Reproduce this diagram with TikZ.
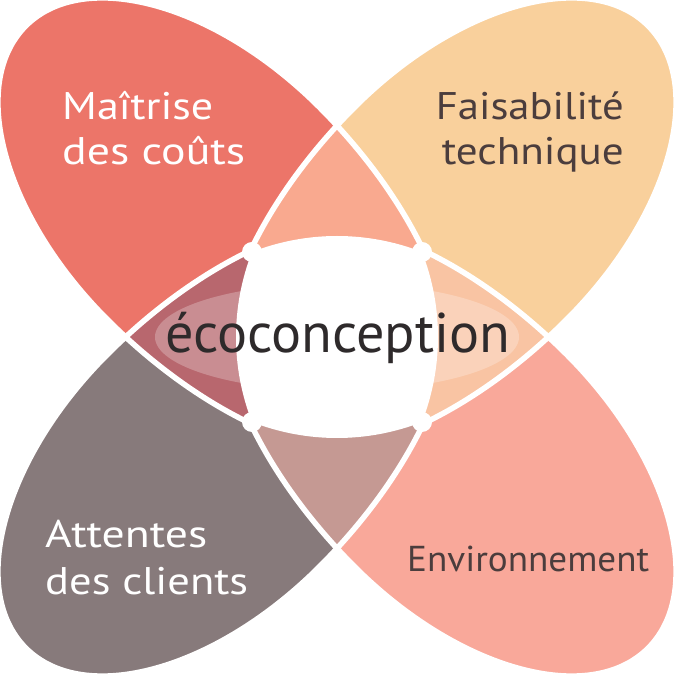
\documentclass[tikz,border=0pt]{standalone}
\usepackage{fontspec}
\setmainfont{PT Sans}
\usepackage{graphicx}
\definecolor{cRed}{HTML}{EC7569}
\definecolor{cYel}{HTML}{F9D09C}
\definecolor{cPink}{HTML}{F9A89A}
\definecolor{cGray}{HTML}{877A7B}
\definecolor{cTop}{HTML}{F9A98F}
\definecolor{cLeft}{HTML}{B8676E}
\definecolor{cRight}{HTML}{F9C4A3}
\definecolor{cBot}{HTML}{C59993}
\definecolor{cDark}{HTML}{4B3D3D}
\definecolor{cText}{HTML}{2E2A2B}
\newsavebox\fitbox
\newcommand\fitw[2]{\sbox\fitbox{#2}\pgfmathsetmacro\fitr{#1/\wd\fitbox}\scalebox{\fitr}[1]{\usebox\fitbox}}
\newcommand\egg{(175,150) arc[start angle=90,end angle=-90,x radius=265pt,y radius=150pt] arc[start angle=270,end angle=90,x radius=302pt,y radius=150pt] -- cycle}
\tikzset{
  petalat/.style={shift={(337,337)},rotate=#1},
  label/.style={inner sep=0pt,font=\fontsize{38.5}{46}\selectfont},
  edgeline/.style={white,line width=5.5pt},
}
\begin{document}
\begin{tikzpicture}[x=1pt,y=1pt]
\useasboundingbox (0,0) rectangle (674,674);
\clip (0,0) rectangle (674,674);
% petals
\fill[cRed,petalat=135] \egg;
\fill[cYel,petalat=45] \egg;
\fill[cPink,petalat=-45] \egg;
\fill[cGray,petalat=225] \egg;
% top lens
\begin{scope}
\clip[petalat=135] \egg;
\clip[petalat=45] \egg;
\clip (337,337) -- (-400,1074) -- (1074,1074) -- cycle;
\fill[cTop] (0,0) rectangle (674,674);
\end{scope}
% left lens
\begin{scope}
\clip[petalat=135] \egg;
\clip[petalat=225] \egg;
\clip (337,337) -- (-400,1074) -- (-400,-400) -- cycle;
\fill[cLeft] (0,0) rectangle (674,674);
\fill[white,opacity=.25] (337,337) ellipse[x radius=182pt,y radius=54pt];
\end{scope}
% right lens
\begin{scope}
\clip[petalat=45] \egg;
\clip[petalat=-45] \egg;
\clip (337,337) -- (1074,1074) -- (1074,-400) -- cycle;
\fill[cRight] (0,0) rectangle (674,674);
\fill[white,opacity=.25] (337,337) ellipse[x radius=182pt,y radius=54pt];
\end{scope}
% bottom lens
\begin{scope}
\clip[petalat=225] \egg;
\clip[petalat=-45] \egg;
\clip (337,337) -- (-400,-400) -- (1074,-400) -- cycle;
\fill[cBot] (0,0) rectangle (674,674);
\end{scope}
% white edges
\foreach \a in {135,45,-45,225}{
  \begin{scope}[petalat=\a]
  \clip (0,-400) rectangle (700,400);
  \draw[edgeline] \egg;
  \end{scope}
}
% central white region
\fill[white] (252,422) arc[start angle=111.32,end angle=68.68,radius=233.8pt]
  arc[start angle=21.32,end angle=-21.32,radius=233.8pt]
  arc[start angle=-68.68,end angle=-111.32,radius=233.8pt]
  arc[start angle=-158.68,end angle=-201.32,radius=233.8pt] -- cycle;
\foreach \p in {{(252,422)},{(422,422)},{(422,252)},{(252,252)}}{
  \fill[white] \p circle[radius=10pt];
}
% texts
\node[label,text=white,anchor=base west] (m1) at (62,554) {\fitw{151}{Maîtrise}};
\node[label,text=white,anchor=base west] (m2) at (62,509) {\fitw{183}{des coûts}};
\node[label,text=cDark,anchor=base east] (f1) at (624,554) {\fitw{188}{Faisabilité}};
\node[label,text=cDark,anchor=base east] (f2) at (624,509) {\fitw{182}{technique}};
\node[label,text=white,anchor=base west] (a1) at (45,126) {\fitw{162}{Attentes}};
\node[label,text=white,anchor=base west] (a2) at (45,79) {\fitw{203}{des clients}};
\node[inner sep=0pt,font=\fontsize{36}{42}\selectfont,text=cDark,anchor=base west] (e1) at (407,102) {\fitw{242}{Environnement}};
\node[inner sep=0pt,font=\fontsize{56}{64}\selectfont,text=cText,anchor=base west] (c) at (165,321) {\fitw{345}{écoconception}};
\end{tikzpicture}
\end{document}
